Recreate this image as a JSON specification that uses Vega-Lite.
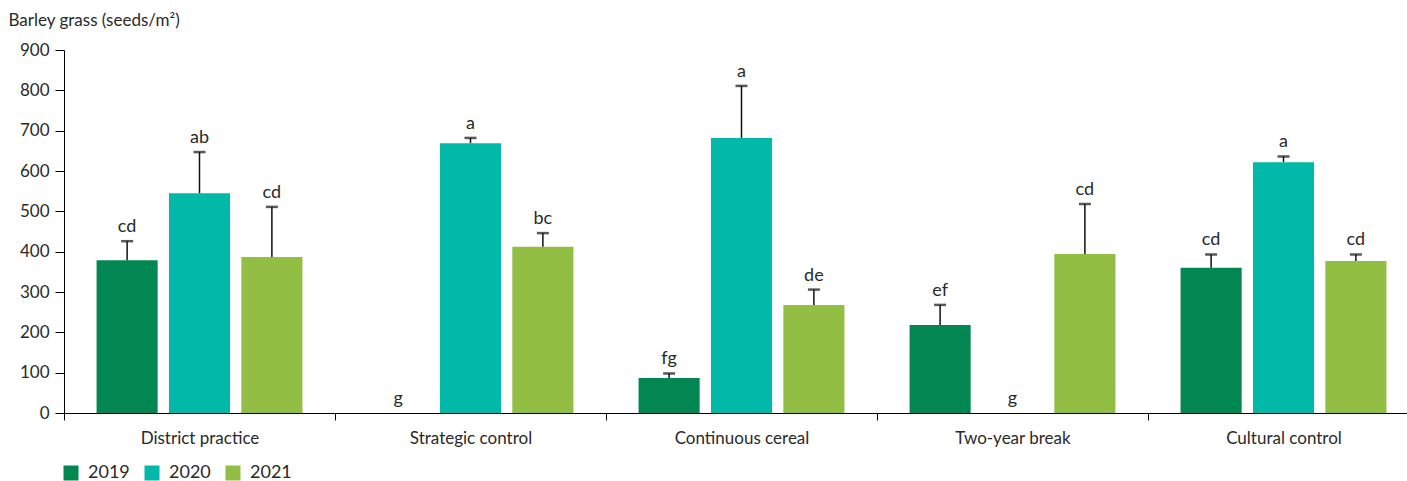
{
  "$schema": "https://vega.github.io/schema/vega-lite/v6.json",
  "width": 1355,
  "height": 363,
  "autosize": {"type": "none"},
  "padding": {"left": 64, "top": 50, "right": 0, "bottom": 68},
  "background": "white",
  "config": {
    "view": {"stroke": null},
    "font": "Lato",
    "axis": {"labelFont": "Lato", "titleFont": "Lato", "labelColor": "#2a2a2a", "titleColor": "#2a2a2a", "domainColor": "#000", "tickColor": "#000", "grid": false}
  },
  "data": {
    "values": [
      {"treatment": "District practice", "year": "2019", "value": 379, "upper": 426, "label": "cd"},
      {"treatment": "District practice", "year": "2020", "value": 545, "upper": 647, "label": "ab"},
      {"treatment": "District practice", "year": "2021", "value": 387, "upper": 511, "label": "cd"},
      {"treatment": "Strategic control", "year": "2019", "value": 0, "upper": 0, "label": "g"},
      {"treatment": "Strategic control", "year": "2020", "value": 669, "upper": 682, "label": "a"},
      {"treatment": "Strategic control", "year": "2021", "value": 412, "upper": 446, "label": "bc"},
      {"treatment": "Continuous cereal", "year": "2019", "value": 87, "upper": 98, "label": "fg"},
      {"treatment": "Continuous cereal", "year": "2020", "value": 682, "upper": 811, "label": "a"},
      {"treatment": "Continuous cereal", "year": "2021", "value": 268, "upper": 306, "label": "de"},
      {"treatment": "Two-year break", "year": "2019", "value": 218, "upper": 268, "label": "ef"},
      {"treatment": "Two-year break", "year": "2020", "value": 0, "upper": 0, "label": "g"},
      {"treatment": "Two-year break", "year": "2021", "value": 394, "upper": 518, "label": "cd"},
      {"treatment": "Cultural control", "year": "2019", "value": 360, "upper": 393, "label": "cd"},
      {"treatment": "Cultural control", "year": "2020", "value": 622, "upper": 636, "label": "a"},
      {"treatment": "Cultural control", "year": "2021", "value": 377, "upper": 393, "label": "cd"}
    ]
  },
  "encoding": {
    "x": {
      "field": "treatment", "type": "nominal",
      "sort": ["District practice", "Strategic control", "Continuous cereal", "Two-year break", "Cultural control"],
      "scale": {"paddingInner": 0, "paddingOuter": 0},
      "axis": {"title": null, "labelAngle": 0, "labelFontSize": 17, "tickBand": "extent", "tickSize": 7, "labelPadding": 10, "domainWidth": 1, "tickWidth": 1}
    },
    "xOffset": {"field": "year", "type": "nominal", "scale": {"paddingInner": 0.156, "paddingOuter": 0.45}}
  },
  "layer": [
    {
      "mark": {"type": "bar"},
      "encoding": {
        "y": {
          "field": "value", "type": "quantitative",
          "scale": {"domain": [0, 900], "nice": false},
          "axis": {
            "values": [0, 100, 200, 300, 400, 500, 600, 700, 800, 900],
            "title": "Barley grass (seeds/m²)",
            "titleAngle": 0, "titleAlign": "left", "titleBaseline": "middle",
            "titleX": -56, "titleY": -30, "titleFontSize": 17, "titleFontWeight": "normal",
            "labelFontSize": 17, "tickSize": 9, "labelPadding": 6, "domainWidth": 1, "tickWidth": 1
          }
        },
        "color": {
          "field": "year", "type": "nominal",
          "scale": {"domain": ["2019", "2020", "2021"], "range": ["#038752", "#02B8A9", "#92BE43"]},
          "legend": {
            "title": null, "orient": "none", "direction": "horizontal",
            "legendX": -2, "legendY": 414,
            "symbolType": "square", "symbolSize": 225, "symbolStrokeWidth": 0, "symbolOpacity": 1,
            "labelFontSize": 18, "labelColor": "#2a2a2a", "labelOffset": 8, "columnPadding": 13
          }
        }
      }
    },
    {
      "transform": [{"filter": "datum.upper > datum.value"}],
      "mark": {"type": "rule", "color": "#111", "strokeWidth": 1.5},
      "encoding": {
        "y": {"field": "value", "type": "quantitative"},
        "y2": {"field": "upper"}
      }
    },
    {
      "transform": [{"filter": "datum.upper > datum.value"}],
      "mark": {"type": "tick", "color": "#111", "size": 12, "thickness": 2.5, "orient": "horizontal"},
      "encoding": {
        "y": {"field": "upper", "type": "quantitative"}
      }
    },
    {
      "mark": {"type": "text", "baseline": "bottom", "dy": -5, "fontSize": 18, "color": "#2a2a2a"},
      "encoding": {
        "y": {"field": "upper", "type": "quantitative"},
        "text": {"field": "label"}
      }
    }
  ]
}
